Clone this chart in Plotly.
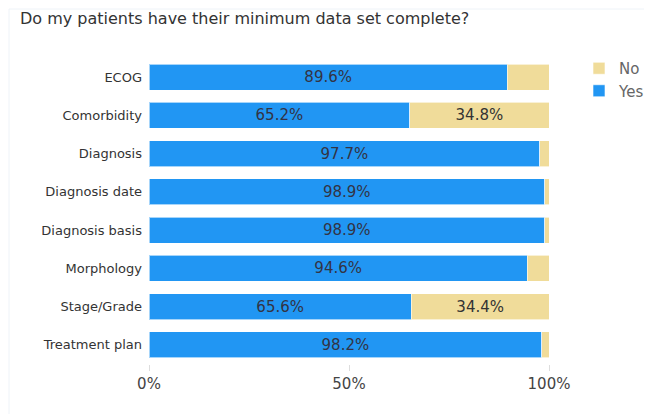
import plotly.graph_objects as go

categories = ["ECOG", "Comorbidity", "Diagnosis", "Diagnosis date",
              "Diagnosis basis", "Morphology", "Stage/Grade", "Treatment plan"]
yes_vals = [89.6, 65.2, 97.7, 98.9, 98.9, 94.6, 65.6, 98.2]
no_vals = [10.4, 34.8, 2.3, 1.1, 1.1, 5.4, 34.4, 1.8]
tick_vals = [0, 50, 100]
tick_text = ["0%", "50%", "100%"]

def labels(vals, minimum=15):
    return [f"{v:.1f}%" if v >= minimum else "" for v in vals]

BLUE = "#2196F3"
TAN = "#F0DC9A"
FONT = "DejaVu Sans"

fig = go.Figure()
fig.add_trace(go.Bar(
    y=categories, x=yes_vals, name="Yes", orientation="h",
    marker=dict(color=BLUE, line=dict(color="rgba(255,255,255,0.6)", width=1)),
    text=labels(yes_vals), textposition="inside", insidetextanchor="middle",
    textfont=dict(color="#333344", size=15, family=FONT),
    hoverinfo="skip",
))
fig.add_trace(go.Bar(
    y=categories, x=no_vals, name="No", orientation="h",
    marker=dict(color=TAN, line=dict(color="rgba(255,255,255,0.6)", width=1)),
    text=labels(no_vals), textposition="inside", insidetextanchor="middle",
    textfont=dict(color="#333333", size=15, family=FONT),
    hoverinfo="skip",
))

W, H = 644, 406
fig.update_layout(
    width=W, height=H,
    barmode="stack", bargap=0.32,
    plot_bgcolor="white", paper_bgcolor="white",
    margin=dict(l=141, r=103, t=50, b=50, autoexpand=False),
    font=dict(family=FONT, size=13, color="#333333"),
    title=dict(text="Do my patients have their minimum data set complete?",
               x=12/W, xref="container", xanchor="left",
               y=1-10/H, yref="container", yanchor="middle",
               font=dict(size=16, color="#333333", family=FONT)),
    legend=dict(x=571/W, y=1-44/H, xref="container", yref="container",
                xanchor="left", yanchor="top",
                traceorder="reversed", font=dict(size=15, color="#666666"),
                bgcolor="rgba(0,0,0,0)", tracegroupgap=0, itemwidth=30),
    uniformtext=dict(mode="show", minsize=12),
    shapes=[
        dict(type="line", xref="paper", yref="paper", x0=-140/400, x1=1.26, y0=1+49/306, y1=1+49/306,
             line=dict(color="#EEF3F8", width=1)),
        dict(type="line", xref="paper", yref="paper", x0=-140/400, x1=-140/400, y0=-50/306, y1=1+49/306,
             line=dict(color="#EEF3F8", width=1)),
    ],
)
fig.update_xaxes(range=[0, 100], tickvals=tick_vals, ticktext=tick_text,
                 showgrid=False, zeroline=False, showline=False,
                 ticks="outside", ticklen=6, tickcolor="#DDDDDD",
                 tickfont=dict(size=15, color="#444444"), automargin=False)
fig.update_yaxes(autorange="reversed", showgrid=False, zeroline=False,
                 showline=False, ticks="", ticklabelstandoff=6,
                 tickfont=dict(size=13, color="#333333"), automargin=False)

fig.write_html("out.html")
